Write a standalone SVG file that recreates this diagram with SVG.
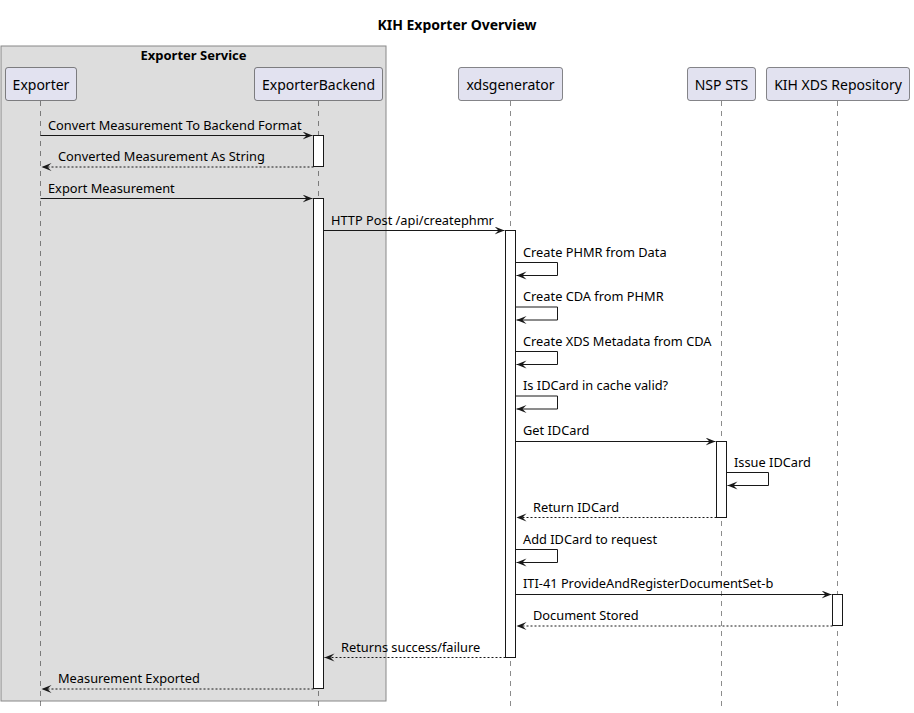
<svg xmlns="http://www.w3.org/2000/svg" width="914" height="713" viewBox="0 0 914 713">
<defs>
<marker id="ah" markerUnits="userSpaceOnUse" markerWidth="12" markerHeight="10" refX="10" refY="4" orient="auto" viewBox="0 0 12 10">
<path d="M0,0 L10,4 L0,8 L4,4 Z" fill="#181818"/>
</marker>
<style>
text{font-family:"Noto Sans","DejaVu Sans",sans-serif;fill:#000}
.msg{font-size:12.8px}
.part{font-size:14px;text-anchor:middle}
.title{font-size:14px;font-weight:bold;text-anchor:middle}
.pbox{fill:#E2E2F0;stroke:#181818;stroke-width:0.5}
.life{stroke:#181818;stroke-width:0.5;stroke-dasharray:5,5}
.act{fill:#FFFFFF;stroke:#181818;stroke-width:1}
.line{stroke:#181818;stroke-width:1;fill:none;marker-end:url(#ah)}
.dash{stroke-dasharray:2,2}
</style>
</defs>
<rect width="914" height="713" fill="#FFFFFF"/>
<text class="title" x="457" y="30">KIH Exporter Overview</text>
<g id="box-exporter-service">
<rect x="1" y="46" width="385" height="655" fill="#DDDDDD" stroke="#888888" stroke-width="1"/>
<text class="title" x="193.5" y="60" style="font-size:13px">Exporter Service</text>
</g>
<g id="lifelines">
<line class="life" x1="40.5" y1="101" x2="40.5" y2="710"/>
<line class="life" x1="318.5" y1="101" x2="318.5" y2="710"/>
<line class="life" x1="510.5" y1="101" x2="510.5" y2="710"/>
<line class="life" x1="721.5" y1="101" x2="721.5" y2="710"/>
<line class="life" x1="837.5" y1="101" x2="837.5" y2="710"/>
</g>
<g id="Exporter">
<rect class="pbox" x="5.5" y="67.5" width="71" height="33" rx="2.5"/>
<text class="part" x="41" y="89.5">Exporter</text>
</g>
<g id="ExporterBackend">
<rect class="pbox" x="254.5" y="67.5" width="128" height="33" rx="2.5"/>
<text class="part" x="318.5" y="89.5">ExporterBackend</text>
</g>
<g id="xdsgenerator">
<rect class="pbox" x="458.5" y="67.5" width="104" height="33" rx="2.5"/>
<text class="part" x="510.5" y="89.5">xdsgenerator</text>
</g>
<g id="NSP_STS">
<rect class="pbox" x="687.5" y="67.5" width="68" height="33" rx="2.5"/>
<text class="part" x="721.5" y="89.5">NSP STS</text>
</g>
<g id="KIH_XDS_Repository">
<rect class="pbox" x="766.5" y="67.5" width="143" height="33" rx="2.5"/>
<text class="part" x="838" y="89.5">KIH XDS Repository</text>
</g>
<g id="activations">
<rect class="act" x="313.5" y="135.5" width="10" height="31"/>
<rect class="act" x="313.5" y="198.5" width="10" height="490"/>
<rect class="act" x="505.5" y="230.5" width="10" height="427"/>
<rect class="act" x="716.5" y="441.5" width="10" height="76"/>
<rect class="act" x="832.5" y="594.5" width="10" height="31"/>
</g>
<g id="connectors">
<line class="line" x1="40.5" y1="135.5" x2="312.5" y2="135.5"/>
<line class="line dash" x1="313.5" y1="167" x2="41.5" y2="167"/>
<line class="line" x1="40.5" y1="198.5" x2="312.5" y2="198.5"/>
<line class="line" x1="323.5" y1="230.5" x2="504.5" y2="230.5"/>
<path class="line" d="M515.5,262.5 H557.5 V275.5 H516.5"/>
<path class="line" d="M515.5,307 H557.5 V320 H516.5"/>
<path class="line" d="M515.5,351.5 H557.5 V364.5 H516.5"/>
<path class="line" d="M515.5,396 H557.5 V409 H516.5"/>
<line class="line" x1="515.5" y1="441.5" x2="715.5" y2="441.5"/>
<path class="line" d="M726.5,472.5 H768.5 V485.5 H727.5"/>
<line class="line dash" x1="716.5" y1="517.5" x2="516.5" y2="517.5"/>
<path class="line" d="M515.5,549.5 H557.5 V562.5 H516.5"/>
<line class="line" x1="515.5" y1="594.5" x2="831.5" y2="594.5"/>
<line class="line dash" x1="832.5" y1="626" x2="516.5" y2="626"/>
<line class="line dash" x1="505.5" y1="657.5" x2="324.5" y2="657.5"/>
<line class="line dash" x1="313.5" y1="689" x2="41.5" y2="689"/>
</g>
<g id="labels">
<text class="msg" x="48" y="130">Convert Measurement To Backend Format</text>
<text class="msg" x="58" y="161">Converted Measurement As String</text>
<text class="msg" x="48" y="193">Export Measurement</text>
<text class="msg" x="331" y="225">HTTP Post /api/createphmr</text>
<text class="msg" x="523" y="257">Create PHMR from Data</text>
<text class="msg" x="523" y="301">Create CDA from PHMR</text>
<text class="msg" x="523" y="346">Create XDS Metadata from CDA</text>
<text class="msg" x="523" y="390">Is IDCard in cache valid?</text>
<text class="msg" x="523" y="435">Get IDCard</text>
<text class="msg" x="734" y="467">Issue IDCard</text>
<text class="msg" x="533" y="512">Return IDCard</text>
<text class="msg" x="523" y="544">Add IDCard to request</text>
<text class="msg" x="523" y="588">ITI-41 ProvideAndRegisterDocumentSet-b</text>
<text class="msg" x="533" y="620">Document Stored</text>
<text class="msg" x="341" y="652">Returns success/failure</text>
<text class="msg" x="58" y="683">Measurement Exported</text>
</g>
</svg>
